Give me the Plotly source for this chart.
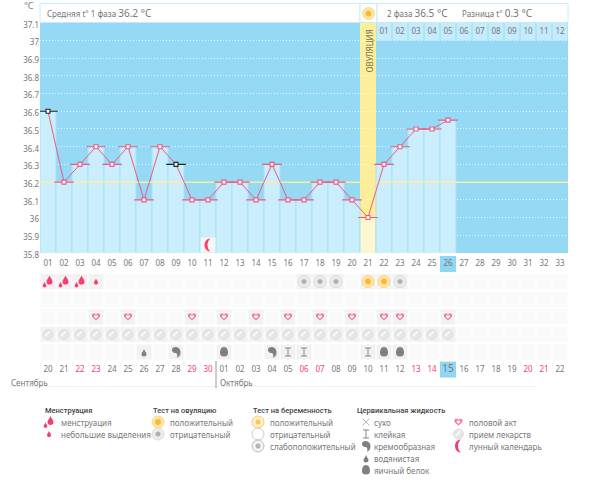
#%% Basal temperature chart
import plotly.graph_objects as go

#%% Data
cycle_days = list(range(1, 34))
cycle_labels = ['%02d' % d for d in cycle_days]
temp_days = list(range(1, 27))
temps = [36.6, 36.2, 36.3, 36.4, 36.3, 36.4, 36.1, 36.4, 36.3, 36.1, 36.1, 36.2, 36.2,
         36.1, 36.3, 36.1, 36.1, 36.2, 36.2, 36.1, 36.0, 36.3, 36.4, 36.5, 36.5, 36.55]
black_days = [1, 9]
y_ticks = [35.8, 35.9, 36.0, 36.1, 36.2, 36.3, 36.4, 36.5, 36.6, 36.7, 36.8, 36.9, 37.0, 37.1]
y_labels = ['35.8', '35.9', '36', '36.1', '36.2', '36.3', '36.4', '36.5', '36.6', '36.7', '36.8', '36.9', '37', '37.1']
mean_temp = 36.2
ovulation_day = 21
today = 26
moon_day = 11
phase2_days = cycle_days[21:]
phase2_labels = ['01', '02', '03', '04', '05', '06', '07', '08', '09', '10', '11', '12']
dates = ['20', '21', '22', '23', '24', '25', '26', '27', '28', '29', '30',
         '01', '02', '03', '04', '05', '06', '07', '08', '09', '10', '11', '12', '13', '14', '15',
         '16', '17', '18', '19', '20', '21', '22']
weekend_days = [3, 4, 10, 11, 17, 18, 24, 25, 31, 32]
heavy_days = [1, 2, 3]
light_days = [4]
ovul_neg_days = [17, 18, 19, 23]
ovul_pos_days = [21, 22]
heart_days = [4, 6, 10, 12, 14, 16, 18, 20, 22, 23, 26]
pill_days = list(range(1, 27))
watery_days = [7]
creamy_days = [9, 15]
sticky_days = [16, 17, 21]
egg_days = [12, 22, 23]

GREY = '#777777'
PINK = '#f5406f'
LINE_PINK = '#ea5a85'
BLUE = '#95d9f5'
FONT = 'Noto Sans'
W, H = 600, 495

# rows under the chart live on a second y axis, one unit per row
ROW_PX = 17.6
ROW0_PX = 264


def px_x(p):
    return p / W


def px_y(p):
    return 1 - p / H


#%% Small icon drawings, pixel sized shapes anchored at a point
def drop(cx, cy, r):
    return (f'M{cx},{cy + 2 * r} C{cx + .4 * r},{cy + r} {cx + r},{cy + .6 * r} {cx + r},{cy - .1 * r} '
            f'C{cx + r},{cy - 1.3 * r} {cx - r},{cy - 1.3 * r} {cx - r},{cy - .1 * r} '
            f'C{cx - r},{cy + .6 * r} {cx - .4 * r},{cy + r} {cx},{cy + 2 * r} Z')


def heart(s):
    return (f'M0,{-4 * s} C{-2 * s},{-2 * s} {-5 * s},{-.5 * s} {-4.5 * s},{2 * s} '
            f'C{-4 * s},{4.2 * s} {-1 * s},{4.2 * s} 0,{2 * s} '
            f'C{1 * s},{4.2 * s} {4 * s},{4.2 * s} {4.5 * s},{2 * s} '
            f'C{5 * s},{-.5 * s} {2 * s},{-2 * s} 0,{-4 * s} Z')


MOON = 'M2.5,6.5 C-5.5,6.5 -5.5,-6.5 2.5,-6.5 C-1.5,-3.5 -1.5,3.5 2.5,6.5 Z'
CREAMY = 'M-4,3 C-3,6 4,6 4.5,0 C4.8,-3 3,-5 1,-6 C2,-3 1,-1 -1,-1 C-3,-1 -4.5,1 -4,3 Z'
STICKY = 'M-3,4 H3 M0,4 V-4 M-3,-4 H3'
DRY = 'M-3.5,3.5 L3.5,-3.5 M-3.5,-3.5 L3.5,3.5'
EGG = 'M0,5 C3,5 4,2 4,-1 C4,-3.5 2.5,-4.5 0,-4.5 C-2.5,-4.5 -4,-3.5 -4,-1 C-4,2 -3,5 0,5 Z'
PILL_MARK = 'M-3,-2 L2,3'

shapes = []


def path(d, xa, ya, xref, yref, fill=None, line=None, lw=1):
    shapes.append(dict(type='path', path=d, xsizemode='pixel', ysizemode='pixel', xanchor=xa, yanchor=ya,
                       xref=xref, yref=yref, fillcolor=fill or 'rgba(0,0,0,0)',
                       line=dict(color=line or 'rgba(0,0,0,0)', width=lw), layer='above'))


def circle(r, xa, ya, xref, yref, fill, line=None, lw=1):
    shapes.append(dict(type='circle', x0=-r, x1=r, y0=-r, y1=r, xsizemode='pixel', ysizemode='pixel',
                       xanchor=xa, yanchor=ya, xref=xref, yref=yref, fillcolor=fill,
                       line=dict(color=line or 'rgba(0,0,0,0)', width=lw), layer='above'))


def icon(kind, xa, ya, xref='x', yref='y2'):
    a = (xa, ya, xref, yref)
    if kind == 'heavy':
        path(drop(1.5, 0, 3), *a, fill=PINK)
        path(drop(-3.5, -4, 1.8), *a, fill=PINK)
    elif kind == 'light':
        path(drop(0, -1, 2), *a, fill=PINK)
    elif kind == 'ov_pos':
        circle(6, *a, fill='#fde7a0', line='#fbd98a')
        circle(3, *a, fill='#f9b74a')
    elif kind == 'ov_neg':
        circle(6, *a, fill='#ececec', line='#dddddd')
        circle(2.5, *a, fill='#b0b0b0')
    elif kind == 'preg_pos':
        circle(6, *a, fill='#fdf0c4', line='#f5cd7c')
        circle(2.5, *a, fill='#f7c566')
    elif kind == 'preg_neg':
        circle(6, *a, fill='#ffffff', line='#cccccc')
    elif kind == 'preg_weak':
        circle(6, *a, fill='#f2f2f2', line='#bdbdbd')
        circle(2.5, *a, fill='#b5b5b5')
    elif kind == 'heart':
        path(heart(.9), *a, fill='#f77b9d')
        path(heart(.42), *a, fill='#ffffff')
    elif kind == 'pill':
        circle(5, *a, fill='#e6e6e6', line='#dedede')
        path(PILL_MARK, *a, line='#fbfbfb', lw=1.5)
    elif kind == 'watery':
        path(drop(0, -2, 2.5), *a, fill='#808080')
    elif kind == 'creamy':
        path(CREAMY, *a, fill='#808080')
    elif kind == 'sticky':
        path(STICKY, *a, line='#888888', lw=1)
    elif kind == 'dry':
        path(DRY, *a, line='#aaaaaa', lw=.8)
    elif kind == 'egg':
        path(EGG, *a, fill='#808080')
    elif kind == 'moon':
        path(MOON, *a, fill=PINK)


#%% Main chart
fig = go.Figure()

bar_colors = ['#fdf6cf' if d == ovulation_day else '#cbeefc' for d in temp_days]
fig.add_trace(go.Bar(x=temp_days, y=temps, width=1, marker=dict(color=bar_colors, line=dict(color='#a9e0f6', width=1))))

# header cells with the second phase day numbers
fig.add_trace(go.Bar(x=phase2_days, y=[.1] * len(phase2_days), base=37.0, width=.94,
                     marker=dict(color='#c6ecfb', line_width=0)))
fig.add_trace(go.Scatter(x=phase2_days, y=[37.05] * len(phase2_days), mode='text', text=phase2_labels,
                         textfont=dict(family=FONT, size=8, color=GREY)))

# moon cell
fig.add_trace(go.Scatter(x=[moon_day], y=[35.845], mode='markers',
                         marker=dict(symbol='square', size=15, color='#f6f6f6', line_width=0)))
icon('moon', moon_day, 35.845, 'x', 'y')

fig.add_trace(go.Scatter(x=[.5, 33.5], y=[mean_temp, mean_temp], mode='lines', line=dict(color='#fbef9b', width=1.5)))
fig.add_trace(go.Scatter(x=temp_days, y=temps, mode='lines', line=dict(color=LINE_PINK, width=1)))

dash_colors = ['#222222' if d in black_days else LINE_PINK for d in temp_days]
fig.add_trace(go.Scatter(x=temp_days, y=temps, mode='markers',
                         marker=dict(symbol='line-ew', size=14, line=dict(color=dash_colors, width=1.1))))
fig.add_trace(go.Scatter(x=temp_days, y=temps, mode='markers',
                         marker=dict(symbol='square', size=4, color='white', line=dict(color=dash_colors, width=1.1))))

#%% Icon rows below the chart
ROW_LABEL, ROW_FLOW, ROW_PREG, ROW_HEART, ROW_PILL, ROW_FLUID, ROW_DATE = 0, 1, 2, 3, 4, 5, 6
active = {ROW_FLOW: heavy_days + light_days + ovul_neg_days + ovul_pos_days,
          ROW_PREG: [],
          ROW_HEART: heart_days,
          ROW_PILL: pill_days,
          ROW_FLUID: watery_days + creamy_days + sticky_days + egg_days}
for r, days in active.items():
    fig.add_trace(go.Scatter(x=cycle_days, y=[r] * 33, yaxis='y2', mode='markers',
                             marker=dict(symbol='square', size=15, line_width=0,
                                         color=['#f2f2f2' if d in days else '#fafafa' for d in cycle_days])))

fig.add_trace(go.Scatter(x=[today, today], y=[ROW_LABEL, ROW_DATE], yaxis='y2', mode='markers',
                         marker=dict(symbol='square', size=16, color='#8fd7f4', line_width=0)))

fig.add_trace(go.Scatter(x=cycle_days, y=[ROW_LABEL] * 33, yaxis='y2', mode='text', text=cycle_labels,
                         textfont=dict(family=FONT, size=8, color=GREY)))

date_colors = [PINK if d in weekend_days else GREY for d in cycle_days]
fig.add_trace(go.Scatter(x=cycle_days, y=[ROW_DATE] * 33, yaxis='y2', mode='text', text=dates,
                         textfont=dict(family=FONT, size=[10 if d == today else 8 for d in cycle_days], color=date_colors)))

for kind, days, row in [('heavy', heavy_days, ROW_FLOW), ('light', light_days, ROW_FLOW),
                        ('ov_neg', ovul_neg_days, ROW_FLOW), ('ov_pos', ovul_pos_days, ROW_FLOW),
                        ('heart', heart_days, ROW_HEART), ('pill', pill_days, ROW_PILL),
                        ('watery', watery_days, ROW_FLUID), ('creamy', creamy_days, ROW_FLUID),
                        ('sticky', sticky_days, ROW_FLUID), ('egg', egg_days, ROW_FLUID)]:
    for d in days:
        icon(kind, d, row)

#%% Header boxes and fixed pieces
bg_shapes = [
    dict(type='rect', xref='paper', yref='paper', x0=px_x(40), x1=px_x(568), y0=px_y(253), y1=px_y(22.7),
         fillcolor=BLUE, line_width=0, layer='below'),
    dict(type='rect', xref='paper', yref='paper', x0=px_x(40), x1=px_x(360), y0=px_y(22.5), y1=px_y(3.5),
         fillcolor='white', line=dict(color='#c6ecfb', width=1)),
    dict(type='rect', xref='paper', yref='paper', x0=px_x(360), x1=px_x(377), y0=px_y(22.5), y1=px_y(3.5),
         fillcolor='white', line=dict(color='#c6ecfb', width=1)),
    dict(type='rect', xref='paper', yref='paper', x0=px_x(377), x1=px_x(568), y0=px_y(22.5), y1=px_y(3.5),
         fillcolor='white', line=dict(color='#c6ecfb', width=1)),
    dict(type='rect', xref='x', yref='y', x0=ovulation_day - .5, x1=ovulation_day + .5, y0=35.8, y1=37.1,
         fillcolor='#fdee9a', line_width=0, layer='below'),
    dict(type='line', xref='paper', yref='paper', x0=px_x(216), x1=px_x(216), y0=px_y(361), y1=px_y(388),
         line=dict(color='#999999', width=1)),
    dict(type='line', xref='paper', yref='paper', x0=px_x(10), x1=px_x(536), y0=px_y(386.5), y1=px_y(386.5),
         line=dict(color='#f0f0f0', width=1), layer='below'),
]
icon('ov_pos', px_x(368.5), px_y(13.5), 'paper', 'paper')

#%% Legend
legend_titles = ['Менструация', 'Тест на овуляцию', 'Тест на беременность', 'Цервикальная жидкость']
title_x = [44, 152, 252, 356]
legend_cols = [
    (49, 60, [('heavy', 'менструация'), ('light', 'небольшие выделения')]),
    (158, 169, [('ov_pos', 'положительный'), ('ov_neg', 'отрицательный')]),
    (258, 269, [('preg_pos', 'положительный'), ('preg_neg', 'отрицательный'), ('preg_weak', 'слабоположительный')]),
    (366, 373, [('dry', 'сухо'), ('sticky', 'клейкая'), ('creamy', 'кремообразная'), ('watery', 'водянистая'), ('egg', 'яичный белок')]),
    (458.5, 467.5, [('heart', 'половой акт'), ('pill', 'прием лекарств'), ('moon', 'лунный календарь')]),
]

notes = []


def note(text, x, y, size=8, color=GREY, anchor='left', angle=0, weight='normal', family=FONT):
    notes.append(dict(text=text, xref='paper', yref='paper', x=px_x(x), y=px_y(y), showarrow=False,
                      xanchor=anchor, yanchor='middle', textangle=angle, borderpad=0,
                      font=dict(family=family, size=size, color=color, weight=weight)))


for t, x in zip(legend_titles, title_x):
    note(t, x, 410.5, size=7.5, color='#444444', weight=500, family='Roboto')
for icon_x, text_x, items in legend_cols:
    for i, (kind, label) in enumerate(items):
        y = 422 + 12 * i
        icon(kind, px_x(icon_x), px_y(y), 'paper', 'paper')
        note(label, text_x, y, size=8)

note('°C', 29, 6, size=9, anchor='center')
note('Средняя t° 1 фаза <span style="font-size:10px">36.2 °C</span>', 46, 13)
note('2 фаза <span style="font-size:10px">36.5 °C</span>', 385.5, 13)
note('Разница t° <span style="font-size:10px">0.3 °C</span>', 461, 13)
note('ОВУЛЯЦИЯ', 368.5, 51, color='#77745a', anchor='center', angle=-90)
note('Сентябрь', 10, 382.5)
note('Октябрь', 219, 382.5)

#%% Layout
fig.update_layout(
    width=W, height=H, margin=dict(l=0, r=0, t=0, b=0, autoexpand=False), showlegend=False, barmode='overlay',
    paper_bgcolor='white', plot_bgcolor='rgba(0,0,0,0)', autosize=False,
    shapes=bg_shapes + shapes, annotations=notes,
    xaxis=dict(domain=[px_x(40), px_x(568)], range=[.5, 33.5], showticklabels=False,
               showgrid=False, zeroline=False, ticks='', anchor='y'),
    yaxis=dict(domain=[px_y(253), px_y(22.7)], range=[35.8, 37.1], tickvals=y_ticks, ticktext=y_labels,
               showgrid=True, gridcolor='rgba(255,255,255,.8)', griddash='1px,2px', gridwidth=1, zeroline=False,
               ticks='', ticklabelshift=2, tickfont=dict(family=FONT, size=8, color=GREY), anchor='x'),
    yaxis2=dict(domain=[0, px_y(253)], range=[(H - ROW0_PX) / ROW_PX, -(ROW0_PX - 253) / ROW_PX],
                visible=False, anchor='x'),
)

# drop the page's default body margin so the figure fills the window
fig.write_html("out.html", post_script="document.body.style.margin='0';", config={'displayModeBar': False})
